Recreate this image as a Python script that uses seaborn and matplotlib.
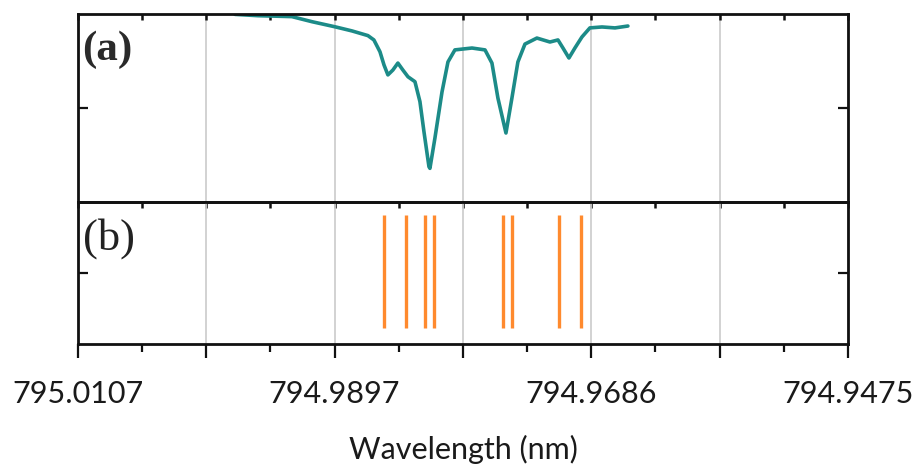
import numpy as np
import matplotlib
matplotlib.use('Agg')
import matplotlib.pyplot as plt
import seaborn as sns
from matplotlib.ticker import FixedLocator

# Measured spectrum, panel (a): wavelength (nm) and relative signal (a.u.)
wavelength_a = [794.99781, 794.99593, 794.99314, 794.99149, 794.98961, 794.98821,
                794.98690, 794.98641, 794.98591, 794.98558, 794.98526, 794.98485,
                794.98444, 794.98403, 794.98361, 794.98304, 794.98263, 794.98230,
                794.98189, 794.98181, 794.98140, 794.98082, 794.98033, 794.97976,
                794.97836, 794.97729, 794.97672, 794.97623, 794.97557, 794.97508,
                794.97459, 794.97401, 794.97303, 794.97196, 794.97130, 794.97089,
                794.97040, 794.96991, 794.96933, 794.96868, 794.96769, 794.96662,
                794.96556]
signal_a = [0.998, 0.991, 0.986, 0.959, 0.932, 0.910,
            0.885, 0.862, 0.799, 0.729, 0.676, 0.702,
            0.739, 0.702, 0.666, 0.640, 0.534, 0.374,
            0.188, 0.179, 0.340, 0.585, 0.745, 0.809,
            0.819, 0.809, 0.739, 0.553, 0.367, 0.553,
            0.745, 0.840, 0.872, 0.851, 0.862, 0.819,
            0.766, 0.819, 0.878, 0.926, 0.931, 0.926,
            0.936]

# Calculated line positions, panel (b)
lines_b = [794.98558, 794.98378, 794.98222, 794.98148,
           794.97582, 794.97508, 794.97122, 794.96942]

x_left, x_right = 795.0107, 794.9475
tick_labels = ['795.0107', '', '794.9897', '', '794.9686', '', '794.9475']

sns.set_style('white')
plt.rcParams['font.family'] = ['Lato', 'DejaVu Sans']

fig = plt.figure(figsize=(9.15, 4.71), dpi=100)
ax1 = fig.add_axes([0.0852, 0.5711, 0.8415, 0.3992])
ax2 = fig.add_axes([0.0852, 0.2696, 0.8415, 0.3015])

sns.lineplot(x=wavelength_a, y=signal_a, ax=ax1, color='#1c8b88',
             linewidth=2.6, sort=False, estimator=None,
             solid_joinstyle='round', solid_capstyle='round')
ax2.vlines(lines_b, 0.11, 0.91, color='#ff8a2e', linewidth=2.4)

major = np.linspace(x_left, x_right, 7)
minor = (major[:-1] + major[1:]) / 2

for ax in (ax1, ax2):
    ax.set_xlim(x_left, x_right)
    ax.set_ylim(0, 1)
    ax.set_xticks(major)
    ax.xaxis.set_minor_locator(FixedLocator(minor))
    ax.set_yticks([0.5])
    ax.set_yticklabels([])
    ax.grid(axis='x', which='major', color='#cfcfcf', linewidth=1.3)
    ax.set_axisbelow(True)
    for s in ax.spines.values():
        s.set_color('#111111')
        s.set_linewidth(2.0)
    ax.tick_params(axis='y', left=True, right=True, direction='in',
                   length=7, width=1.6, color='#111111')
    ax.set_xlabel('')
    ax.set_ylabel('')

# top panel: ticks only on the top edge, pointing in
ax1.tick_params(axis='x', which='both', bottom=False, top=True, direction='in',
                labelbottom=False, length=4, width=1.8, color='#111111')

# bottom panel: outward ticks with labels underneath
ax2.set_xticklabels(tick_labels)
ax2.tick_params(axis='x', which='major', bottom=True, direction='out', length=10,
                width=1.6, color='#111111', labelsize=22, labelcolor='#1a1a1a', pad=16)
ax2.tick_params(axis='x', which='minor', bottom=True, direction='out', length=6,
                width=1.6, color='#111111')
top2 = ax2.secondary_xaxis('top')
top2.set_xticks(major)
top2.xaxis.set_minor_locator(FixedLocator(minor))
top2.tick_params(axis='x', which='both', direction='in', length=4, width=1.8,
                 color='#111111', labeltop=False)
top2.spines['top'].set_linewidth(2.0)

ax2.set_xlabel('Wavelength (nm)', fontsize=22, color='#1a1a1a', labelpad=19)

ax1.text(0.006, 0.81, '(a)', transform=ax1.transAxes, ha='left', va='center',
         fontsize=31, fontweight='bold', family=['Liberation Serif'], color='#2a2a2a')
ax2.text(0.006, 0.74, '(b)', transform=ax2.transAxes, ha='left', va='center',
         fontsize=32, family=['Liberation Serif'], color='#222222')

fig.savefig('out.png', dpi=100)
